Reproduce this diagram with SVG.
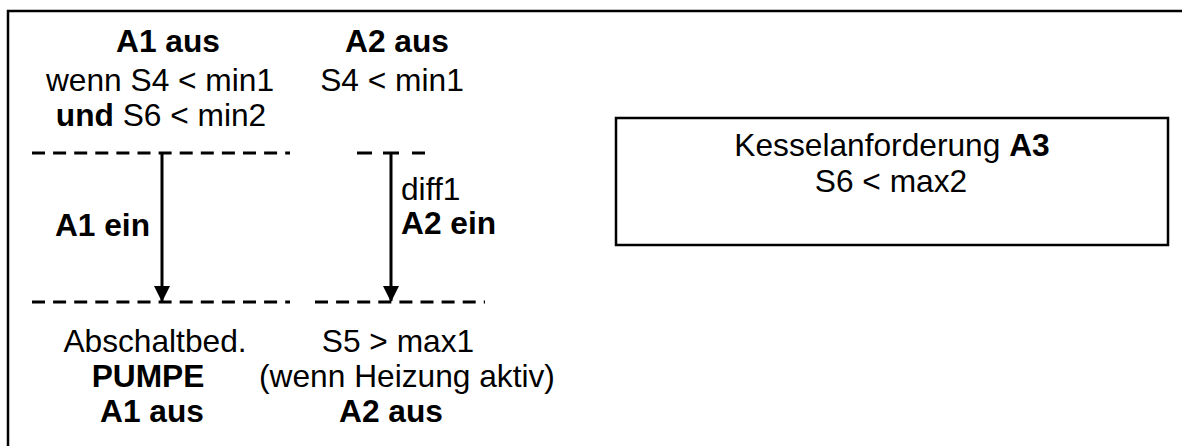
<svg xmlns="http://www.w3.org/2000/svg" width="1182" height="446" viewBox="0 0 1182 446">
<style>
text{font-family:"Liberation Sans",Arial,sans-serif;font-size:31.7px;fill:#000}
.b{font-weight:bold}
.c{text-anchor:middle}
.dash{stroke:#000;stroke-width:3.2;stroke-dasharray:13 8.1;fill:none}
.seg{stroke:#000;stroke-width:3.2;fill:none}
.arr{stroke:#000;stroke-width:3;fill:none}
</style>
<defs>
<marker id="ah" markerWidth="16" markerHeight="16" viewBox="0 0 16 16" refX="15" refY="8" orient="auto" markerUnits="userSpaceOnUse">
<path d="M0,0 L16,8 L0,16 Z" fill="#000"/>
</marker>
</defs>
<rect width="1182" height="446" fill="#fff"/>
<path d="M8,446 V11 H1182" fill="none" stroke="#000" stroke-width="2.5"/>
<g id="a1-off-top">
<text class="b c" x="168" y="52">A1 aus</text>
<text class="c" x="160" y="91">wenn S4 &lt; min1</text>
<text class="c" x="161" y="126"><tspan class="b">und</tspan> S6 &lt; min2</text>
</g>
<g id="a2-off-top">
<text class="b c" x="397" y="52">A2 aus</text>
<text class="c" x="392" y="91">S4 &lt; min1</text>
</g>
<g id="a1-off-bottom">
<text class="c" x="155" y="352">Abschaltbed.</text>
<text class="b c" x="148" y="387">PUMPE</text>
<text class="b c" x="152" y="422">A1 aus</text>
</g>
<g id="a2-off-bottom">
<text class="c" x="398" y="352">S5 &gt; max1</text>
<text class="c" x="407" y="387">(wenn Heizung aktiv)</text>
<text class="b c" x="391" y="422">A2 aus</text>
</g>
<g id="kessel">
<rect x="616" y="118" width="552" height="127" fill="none" stroke="#000" stroke-width="2.5"/>
<text class="c" x="892" y="156">Kesselanforderung <tspan class="b">A3</tspan></text>
<text class="c" x="891" y="192">S6 &lt; max2</text>
</g>
<g id="connectors">
<line class="dash" x1="32" y1="153" x2="290" y2="153"/>
<path class="seg" d="M357,153h15M383,153h16M412,153h13"/>
<line class="dash" x1="32" y1="302" x2="290" y2="302"/>
<line class="dash" x1="315" y1="302" x2="485" y2="302"/>
<line class="arr" x1="162" y1="153" x2="162" y2="301" marker-end="url(#ah)"/>
<line class="arr" x1="391" y1="153" x2="391" y2="301" marker-end="url(#ah)"/>
<text class="b" x="150" y="236" text-anchor="end">A1 ein</text>
<text x="401" y="200">diff1</text>
<text class="b" x="401" y="234">A2 ein</text>
</g>
</svg>
